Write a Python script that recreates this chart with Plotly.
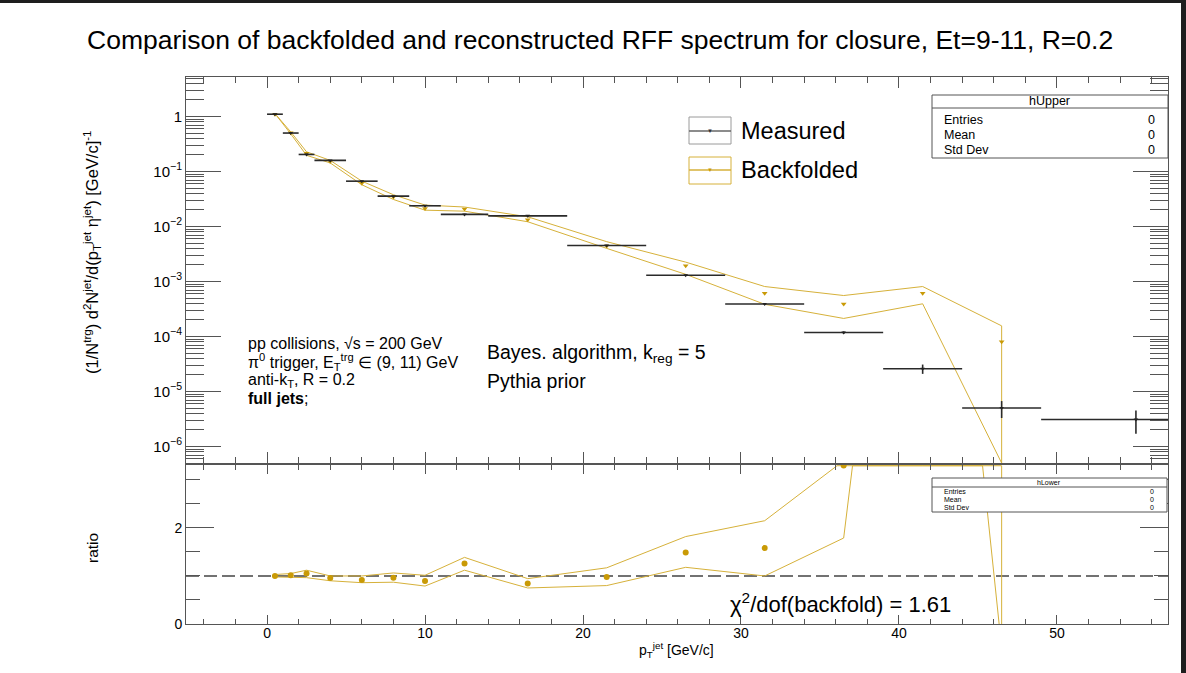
import plotly.graph_objects as go

W, H = 1186, 673
FONT = "Liberation Sans"
GOLD_LINE = "#d6b13a"
GOLD_MARK = "#c99a06"
FRAME = "#555555"

# pT^jet binning (bin centres and half widths, GeV/c)
pt_centers = [0.5, 1.5, 2.5, 4, 6, 8, 10, 12.5, 16.5, 21.5, 26.5, 31.5, 36.5, 41.5, 46.5, 55]
pt_halfwidths = [0.5, 0.5, 0.5, 1, 1, 1, 1, 1.5, 2.5, 2.5, 2.5, 2.5, 2.5, 2.5, 2.5, 6]

# measured spectrum
measured = [1.10, 0.50, 0.204, 0.159, 0.0667, 0.0356, 0.0238, 0.0166, 0.0156,
            0.00452, 0.00130, 3.9e-4, 1.18e-4, 2.59e-5, 5.0e-6, 3.1e-6]
measured_err = [0.02, 0.01, 0.005, 0.003, 0.0015, 0.0008, 0.0006, 0.0004, 0.0004,
                1.2e-4, 4e-5, 1.5e-5, 6e-6, 5e-6, 1.7e-6, 1.4e-6]

# backfolded spectrum with its upper / lower envelope
bf_centers = pt_centers[:15]
backfolded = [1.10, 0.507, 0.214, 0.152, 0.061, 0.0344, 0.0213, 0.0209, 0.0132,
              0.00443, 0.00194, 6.1e-4, 3.9e-4, 6.1e-4, 8.0e-5]
backfolded_hi = [1.13, 0.525, 0.228, 0.159, 0.0667, 0.0378, 0.0245, 0.0226, 0.0150,
                 0.0053, 0.00225, 8.1e-4, 5.56e-4, 8.1e-4, 1.56e-4]
backfolded_lo = [1.078, 0.4825, 0.197, 0.143, 0.0574, 0.031, 0.0198, 0.0190, 0.0122,
                 0.0040, 0.00135, 3.85e-4, 2.13e-4, 3.93e-4, 5e-7]

# backfolded / measured
ratio = [1.0, 1.014, 1.05, 0.958, 0.915, 0.965, 0.894, 1.26, 0.845, 0.98,
         1.49, 1.58, 3.30, 23.5, 16.0]
ratio_hi = [1.03, 1.05, 1.12, 1.0, 1.0, 1.063, 1.014, 1.387, 0.944, 1.17,
            1.82, 2.15, 3.40, 31.0, 31.0]
ratio_lo = [0.98, 0.965, 0.965, 0.90, 0.86, 0.87, 0.79, 1.12, 0.75, 0.80,
            1.18, 1.0, 1.79, 15.2, -0.5]

chi2_ndf = 1.61

RATIO_MAX = 3.31


def px(x):
    return x / W


def py(y):
    return 1 - y / H


def closed_band(xs, hi, lo):
    bx = list(xs) + list(xs)[::-1] + [xs[0]]
    by = list(hi) + list(lo)[::-1] + [hi[0]]
    return bx, by


def clip_above(xs, ys, ymax):
    """Clip a polyline against y <= ymax, running along the frame edge
    where the outline leaves the pad (as a graphics frame clip does)."""
    cx, cy = [], []
    for i in range(len(xs)):
        x0, y0 = xs[i], ys[i]
        cx.append(x0)
        cy.append(min(y0, ymax))
        if i + 1 < len(xs):
            x1, y1 = xs[i + 1], ys[i + 1]
            if (y0 - ymax) * (y1 - ymax) < 0:
                t = (ymax - y0) / (y1 - y0)
                cx.append(x0 + t * (x1 - x0))
                cy.append(ymax)
    return cx, cy


fig = go.Figure()

# upper pad: backfolded envelope, backfolded points, measured points
bx, by = closed_band(bf_centers, backfolded_hi, backfolded_lo)
fig.add_trace(go.Scatter(x=bx, y=by, mode="lines", line=dict(color=GOLD_LINE, width=1),
                         xaxis="x", yaxis="y", showlegend=False, hoverinfo="skip"))
fig.add_trace(go.Scatter(x=bf_centers, y=backfolded, mode="markers",
                         marker=dict(symbol="triangle-down", size=5, color=GOLD_MARK),
                         xaxis="x", yaxis="y", showlegend=False))
fig.add_trace(go.Scatter(x=pt_centers, y=measured, mode="markers",
                         marker=dict(symbol="triangle-down", size=4, color="#222222"),
                         error_x=dict(type="data", array=pt_halfwidths, width=0,
                                      thickness=1.6, color="#2a2a2a"),
                         error_y=dict(type="data", array=measured_err, width=0,
                                      thickness=1.6, color="#2a2a2a"),
                         xaxis="x", yaxis="y", showlegend=False))

# lower pad: ratio envelope and ratio points
rx, ry = closed_band(bf_centers, ratio_hi, ratio_lo)
rx, ry = clip_above(rx, ry, RATIO_MAX - 0.015)
fig.add_trace(go.Scatter(x=rx, y=ry, mode="lines", line=dict(color=GOLD_LINE, width=1),
                         xaxis="x2", yaxis="y2", showlegend=False, hoverinfo="skip"))
fig.add_trace(go.Scatter(x=bf_centers, y=ratio, mode="markers",
                         marker=dict(symbol="circle", size=6, color=GOLD_MARK),
                         xaxis="x2", yaxis="y2", showlegend=False))

x_dom = [px(186), px(1168)]
x_range = [-5.13, 57.03]
tick_font = dict(family=FONT, size=14, color="black")

common_x = dict(domain=x_dom, range=x_range, tick0=0, dtick=10, ticks="inside",
                showline=True, linecolor=FRAME, linewidth=1, tickcolor=FRAME,
                mirror="ticks", showgrid=False, zeroline=False, tickfont=tick_font,
                automargin=False)

decades = [10.0 ** k for k in range(-6, 1)]
decade_text = ["10<sup>\u22126</sup>", "10<sup>\u22125</sup>", "10<sup>\u22124</sup>",
               "10<sup>\u22123</sup>", "10<sup>\u22122</sup>", "10<sup>\u22121</sup>", "1"]
log_minor = [d * 10.0 ** k for k in range(-7, 1) for d in range(2, 10)]

fig.update_layout(
    width=W, height=H,
    margin=dict(l=0, r=0, t=0, b=0, pad=0, autoexpand=False),
    paper_bgcolor="white", plot_bgcolor="white",
    font=dict(family=FONT, color="black"),
    xaxis=dict(common_x, anchor="y", showticklabels=False, ticklen=11,
               minor=dict(ticks="inside", ticklen=6, dtick=2, tick0=0, tickcolor=FRAME)),
    yaxis=dict(type="log", domain=[py(463), py(77)], range=[-6.30, 0.718], anchor="x",
               tickmode="array", tickvals=decades, ticktext=decade_text,
               ticks="inside", ticklen=35, tickcolor=FRAME, showline=True,
               linecolor=FRAME, linewidth=1, mirror="ticks", showgrid=False,
               zeroline=False, automargin=False,
               tickfont=dict(family=FONT, size=15, color="black"),
               minor=dict(tickmode="array", tickvals=log_minor, ticks="inside",
                          ticklen=18, tickcolor=FRAME)),
    xaxis2=dict(common_x, anchor="y2", showticklabels=True, ticklen=9,
                ticklabelstandoff=-4,
                minor=dict(ticks="inside", ticklen=5, dtick=2, tick0=0, tickcolor=FRAME)),
    yaxis2=dict(domain=[py(624), py(465)], range=[0, RATIO_MAX], anchor="x2",
                tick0=0, dtick=2, ticks="inside", ticklen=28, tickcolor=FRAME,
                showline=True, linecolor=FRAME, linewidth=1, mirror="ticks",
                showgrid=False, zeroline=False, automargin=False,
                tickfont=dict(family=FONT, size=14, color="black"),
                minor=dict(ticks="inside", ticklen=14, dtick=0.5, tick0=0, tickcolor=FRAME)),
)

shapes = []
# unity reference line in the ratio pad
shapes.append(dict(type="line", xref="x2 domain", yref="y2", x0=0, x1=1, y0=1, y1=1,
                   line=dict(color="#444444", width=1.5, dash="13px,5px"), layer="below"))

# legend boxes
shapes.append(dict(type="rect", xref="paper", yref="paper", x0=px(689), x1=px(731),
                   y0=py(144), y1=py(117), line=dict(color="#9a9a9a", width=1)))
shapes.append(dict(type="line", xref="paper", yref="paper", x0=px(689), x1=px(731),
                   y0=py(131), y1=py(131), line=dict(color="#666666", width=1.5)))
shapes.append(dict(type="rect", xref="paper", yref="paper", x0=px(689), x1=px(731),
                   y0=py(184), y1=py(157), line=dict(color=GOLD_LINE, width=1)))
shapes.append(dict(type="line", xref="paper", yref="paper", x0=px(689), x1=px(731),
                   y0=py(170), y1=py(170), line=dict(color=GOLD_LINE, width=1.5)))

# statistics boxes
for (x0, x1, y0, yh, y1) in [(932, 1168, 95, 108, 158), (932, 1167, 478, 487, 512)]:
    shapes.append(dict(type="rect", xref="paper", yref="paper", x0=px(x0), x1=px(x1),
                       y0=py(y1), y1=py(y0), line=dict(color=FRAME, width=1),
                       fillcolor="white"))
    shapes.append(dict(type="line", xref="paper", yref="paper", x0=px(x0), x1=px(x1),
                       y0=py(yh), y1=py(yh), line=dict(color=FRAME, width=1)))

# window edges
shapes.append(dict(type="rect", xref="paper", yref="paper", x0=0, x1=1, y0=py(3), y1=1,
                   line=dict(width=0), fillcolor="#1e1e1e"))
shapes.append(dict(type="rect", xref="paper", yref="paper", x0=px(1181), x1=1, y0=0, y1=1,
                   line=dict(width=0), fillcolor="#1e1e1e"))

fig.update_layout(shapes=shapes)

annotations = []


def text(t, x, y, size, xanchor="left", yanchor="middle", angle=0, color="black"):
    annotations.append(dict(text=t, x=px(x), y=py(y), xref="paper", yref="paper",
                            xanchor=xanchor, yanchor=yanchor, showarrow=False,
                            textangle=angle, borderpad=0,
                            font=dict(family=FONT, size=size, color=color)))


text("Comparison of backfolded and reconstructed RFF spectrum for closure, Et=9-11, R=0.2",
     600.5, 40, 26.5, xanchor="center")

text("(1/N<sup>trg</sup>) d<sup>2</sup>N<sup>jet</sup>/d(p<sub>T</sub><sup>jet</sup> "
     "\u03b7<sup>jet</sup>) [GeV/c]<sup>-1</sup>", 92, 252, 16.5, xanchor="center", angle=-90)
text("ratio", 92, 548, 15.5, xanchor="center", angle=-90)
text("p<sub>T</sub><sup>jet</sup> [GeV/c]", 676, 650, 14, xanchor="center")

# legend entries
text("\u25bc", 710, 131, 6, xanchor="center", color="#333333")
text("\u25bc", 710, 170, 6, xanchor="center", color=GOLD_MARK)
text("Measured", 740, 131, 23.5)
text("Backfolded", 740, 170, 23.7)

# statistics box contents
text("hUpper", 1049, 101, 12.5, xanchor="center")
for lab, yy in [("Entries", 120), ("Mean", 135), ("Std Dev", 150)]:
    text(lab, 943, yy, 12.5)
    text("0", 1156, yy, 12.5, xanchor="right")
text("hLower", 1049, 482, 7, xanchor="center")
for lab, yy in [("Entries", 491), ("Mean", 499), ("Std Dev", 507)]:
    text(lab, 943, yy, 7)
    text("0", 1155, yy, 7, xanchor="right")

# physics labels
text("pp collisions, \u221as = 200 GeV", 247, 343, 16)
text("\u03c0<sup>0</sup> trigger, E<sub>T</sub><sup>trg</sup> \u2208 (9, 11) GeV", 247, 362, 16)
text("anti-k<sub>T</sub>, R = 0.2", 247, 380, 16)
text("<b>full jets</b>;", 247, 398, 16)
text("Bayes. algorithm, k<sub>reg</sub> = 5", 486, 353, 19.5)
text("Pythia prior", 486, 381, 19.5)
text(f"\u03c7<sup>2</sup>/dof(backfold) = {chi2_ndf:.2f}", 729, 603, 22)

fig.update_layout(annotations=annotations)

fig.write_html("out.html")
